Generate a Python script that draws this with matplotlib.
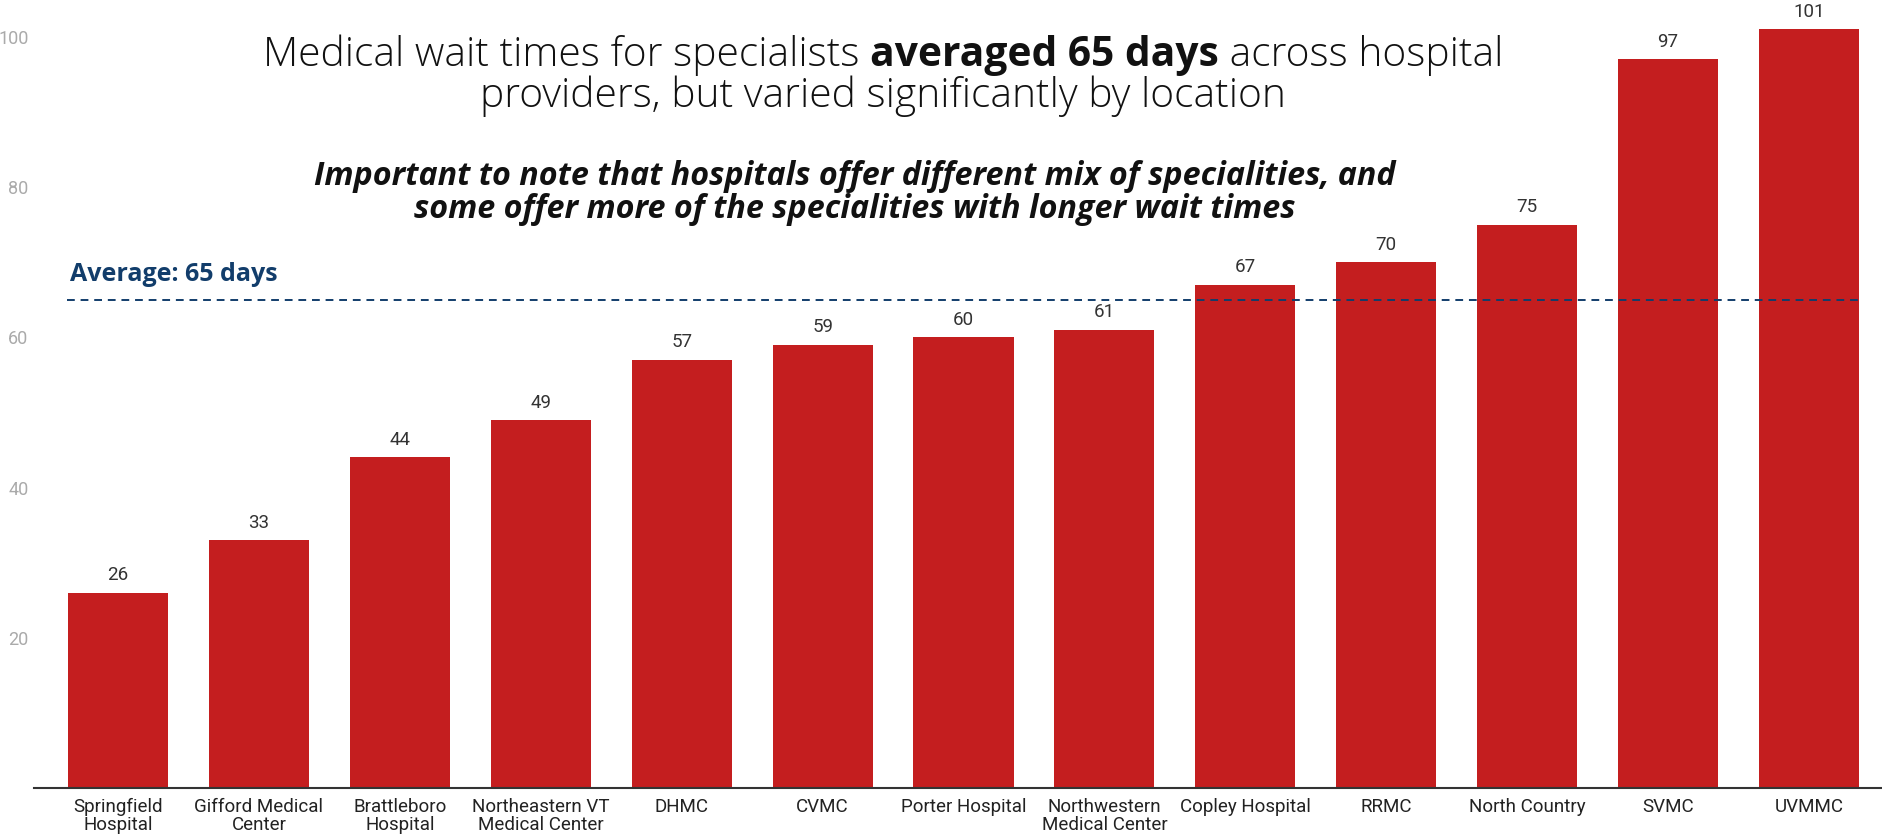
import matplotlib
matplotlib.use("Agg")
import matplotlib.pyplot as plt
import numpy as np

hospitals = ["Springfield\nHospital", "Gifford Medical\nCenter", "Brattleboro\nHospital",
             "Northeastern VT\nMedical Center", "DHMC", "CVMC", "Porter Hospital",
             "Northwestern\nMedical Center", "Copley Hospital", "RRMC", "North Country",
             "SVMC", "UVMMC"]
wait_days = [26, 33, 44, 49, 57, 59, 60, 61, 67, 70, 75, 97, 101]
average = 65
yticks = [20, 40, 60, 80, 100]

red = "#C41E1F"
navy = "#123D6B"

fig = plt.figure(figsize=(18.83, 8.38), dpi=100)
ax = fig.add_axes([34/1883, 50/838, 1 - 34/1883, 788/838])

x = np.arange(len(hospitals))
ax.bar(x, wait_days, width=0.71, color=red, zorder=2)
for xi, v in zip(x, wait_days):
    ax.annotate(str(v), (xi, v), xytext=(0, 6), textcoords="offset points",
                ha="center", va="bottom", fontsize=13.5, family="Roboto", color="#333333")

ax.set_xlim(-0.596, 12.525)
ax.set_ylim(0, 104.9)
ax.set_xticks(x)
ax.set_xticklabels(hospitals, fontsize=13.5, family="Roboto", color="#222222", linespacing=1.0)
ax.set_yticks(yticks)
ax.set_yticklabels([str(t) for t in yticks], fontsize=13, family="Roboto", color="#AAAAAA")
ax.tick_params(axis="both", length=0)
ax.tick_params(axis="x", pad=7)
ax.tick_params(axis="y", pad=4)
for s in ["top", "right", "left"]:
    ax.spines[s].set_visible(False)
ax.spines["bottom"].set_color("#333333")
ax.spines["bottom"].set_linewidth(1.5)

# average line
ax.plot([-0.36, 12.36], [average, average], ls=(0, (4, 3)), color=navy, lw=1.4, zorder=3)
ax.text(-0.34, average + 3.3, "Average: %d days" % average, fontsize=18, family="Open Sans",
        weight="bold", color=navy, ha="left", va="center")

# title with bold middle part
fig.canvas.draw()
r = fig.canvas.get_renderer()
W, H = 1883, 838

def mixed_line(parts, cx, cy, size):
    texts = []
    for s, wt in parts:
        t = fig.text(0, cy / H, s, fontsize=size, family="Open Sans", weight=wt,
                     color="#111111", va="center", ha="left")
        texts.append(t)
    widths = [t.get_window_extent(r).width for t in texts]
    x0 = cx - sum(widths) / 2
    for t, w in zip(texts, widths):
        t.set_x(x0 / W)
        x0 += w

mixed_line([("Medical wait times for specialists ", "light"), ("averaged 65 days", "bold"),
            (" across hospital", "light")], 883, 838 - 55, 29.3)
fig.text(883 / W, (838 - 96) / H, "providers, but varied significantly by location",
         fontsize=29.3, family="Open Sans", weight="light", color="#111111", ha="center", va="center")

fig.text(855 / W, (838 - 193) / H,
         "Important to note that hospitals offer different mix of specialities, and\nsome offer more of the specialities with longer wait times",
         fontsize=23.2, family="Open Sans", weight="bold", style="italic", color="#111111",
         ha="center", va="center", linespacing=1.0)

fig.savefig("out.png", dpi=100)
